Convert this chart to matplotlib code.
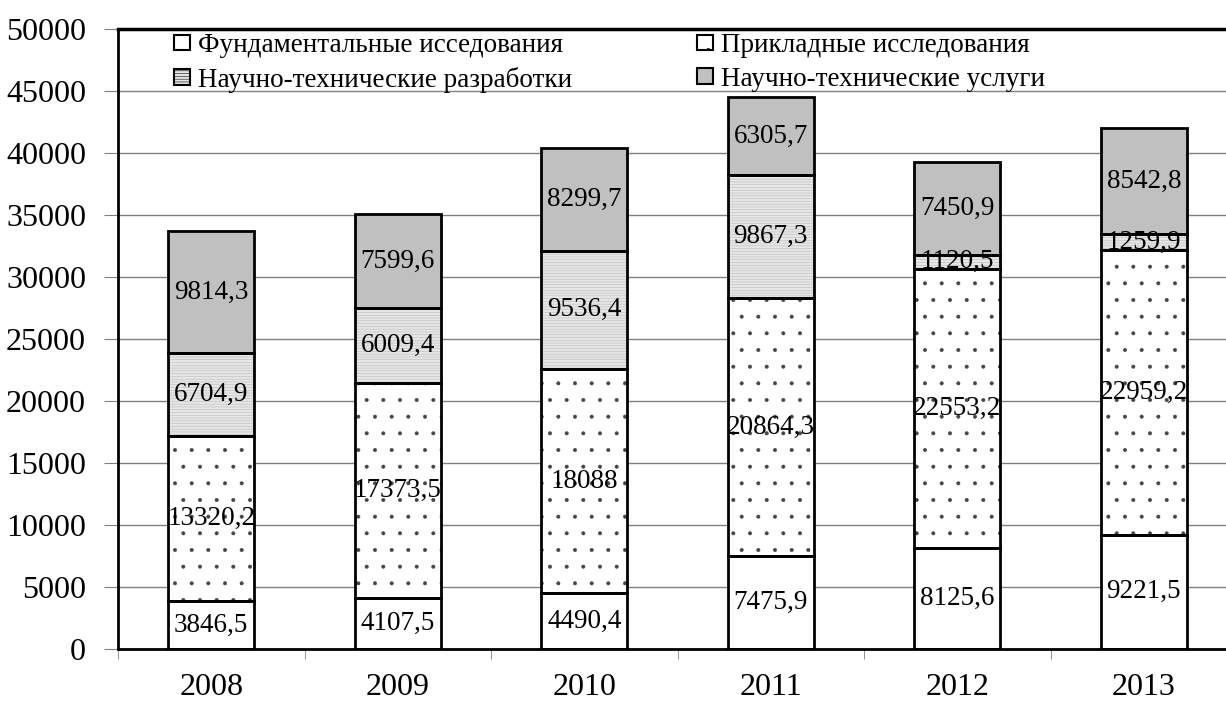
import matplotlib
matplotlib.use("Agg")
from matplotlib import pyplot as plt
from matplotlib.patches import Patch
import numpy as np

years = ["2008", "2009", "2010", "2011", "2012", "2013"]
fundam = [3846.5, 4107.5, 4490.4, 7475.9, 8125.6, 9221.5]
prikl = [13320.2, 17373.5, 18088, 20864.3, 22553.2, 22959.2]
razrab = [6704.9, 6009.4, 9536.4, 9867.3, 1120.5, 1259.9]
uslugi = [9814.3, 7599.6, 8299.7, 6305.7, 7450.9, 8542.8]
names = ["Фундаментальные исседования", "Прикладные исследования",
         "Научно-технические разработки", "Научно-технические услуги"]

plt.rcParams['font.family'] = ['Liberation Serif', 'DejaVu Serif']
plt.rcParams['hatch.linewidth'] = 0.4

# face, hatch, hatch colour
styles = [("white", "", "white"),
          ("white", ".", "#444444"),
          ("#e6e6e6", "------", "#bbbbbb"),
          ("#c0c0c0", "", "#c0c0c0")]

fig = plt.figure(figsize=(12.26, 7.06), dpi=100)
ax = fig.add_axes([118/1226, 57/706, 1119/1226, 620/706])

x = np.arange(len(years))
w = 0.46
series = [fundam, prikl, razrab, uslugi]
bottom = np.zeros(len(years))
for vals, (fc, h, hc) in zip(series, styles):
    vals = np.array(vals)
    ax.bar(x, vals, w, bottom=bottom, color=fc, hatch=h, edgecolor=hc, linewidth=0, zorder=2)
    ax.bar(x, vals, w, bottom=bottom, fill=False, edgecolor="black", linewidth=2, zorder=3)
    for xi, v, b in zip(x, vals, bottom):
        txt = ("%g" % v).replace(".", ",")
        ax.text(xi, b + v/2, txt, ha="center", va="center", fontsize=19.5, zorder=4)
    bottom += vals

ax.set_xlim(-0.5, 5.5)
ax.set_ylim(0, 50000)
ax.set_yticks(np.arange(0, 50001, 5000))
ax.yaxis.grid(True, color="#808080", linewidth=1, zorder=0)
ax.set_axisbelow(True)
ax.tick_params(axis="y", labelsize=23, length=10, color="#808080", pad=13)
ax.set_xticks(x)
ax.set_xticklabels(years)
ax.set_xticks(np.arange(-0.5, 5.6, 1), minor=True)
ax.tick_params(axis="x", which="major", labelsize=23, length=0, pad=17)
ax.tick_params(axis="x", which="minor", length=7, color="#808080")

ax.spines["right"].set_visible(False)
ax.spines["left"].set_linewidth(2)
ax.spines["bottom"].set_linewidth(2)
ax.spines["top"].set_linewidth(2.5)

handles = [Patch(facecolor=fc, hatch=h, edgecolor="black", linewidth=1.5) for fc, h, hc in styles]
order = [0, 2, 1, 3]
fig.legend([handles[i] for i in order], [names[i] for i in order], ncol=2,
           loc="upper left", bbox_to_anchor=(174/1226, 1-33/706), frameon=False,
           fontsize=19.5, handlelength=0.6, handleheight=0.5, handletextpad=0.3,
           columnspacing=4.6, labelspacing=0.32, borderpad=0, borderaxespad=0)

fig.savefig("out.png", dpi=100)
